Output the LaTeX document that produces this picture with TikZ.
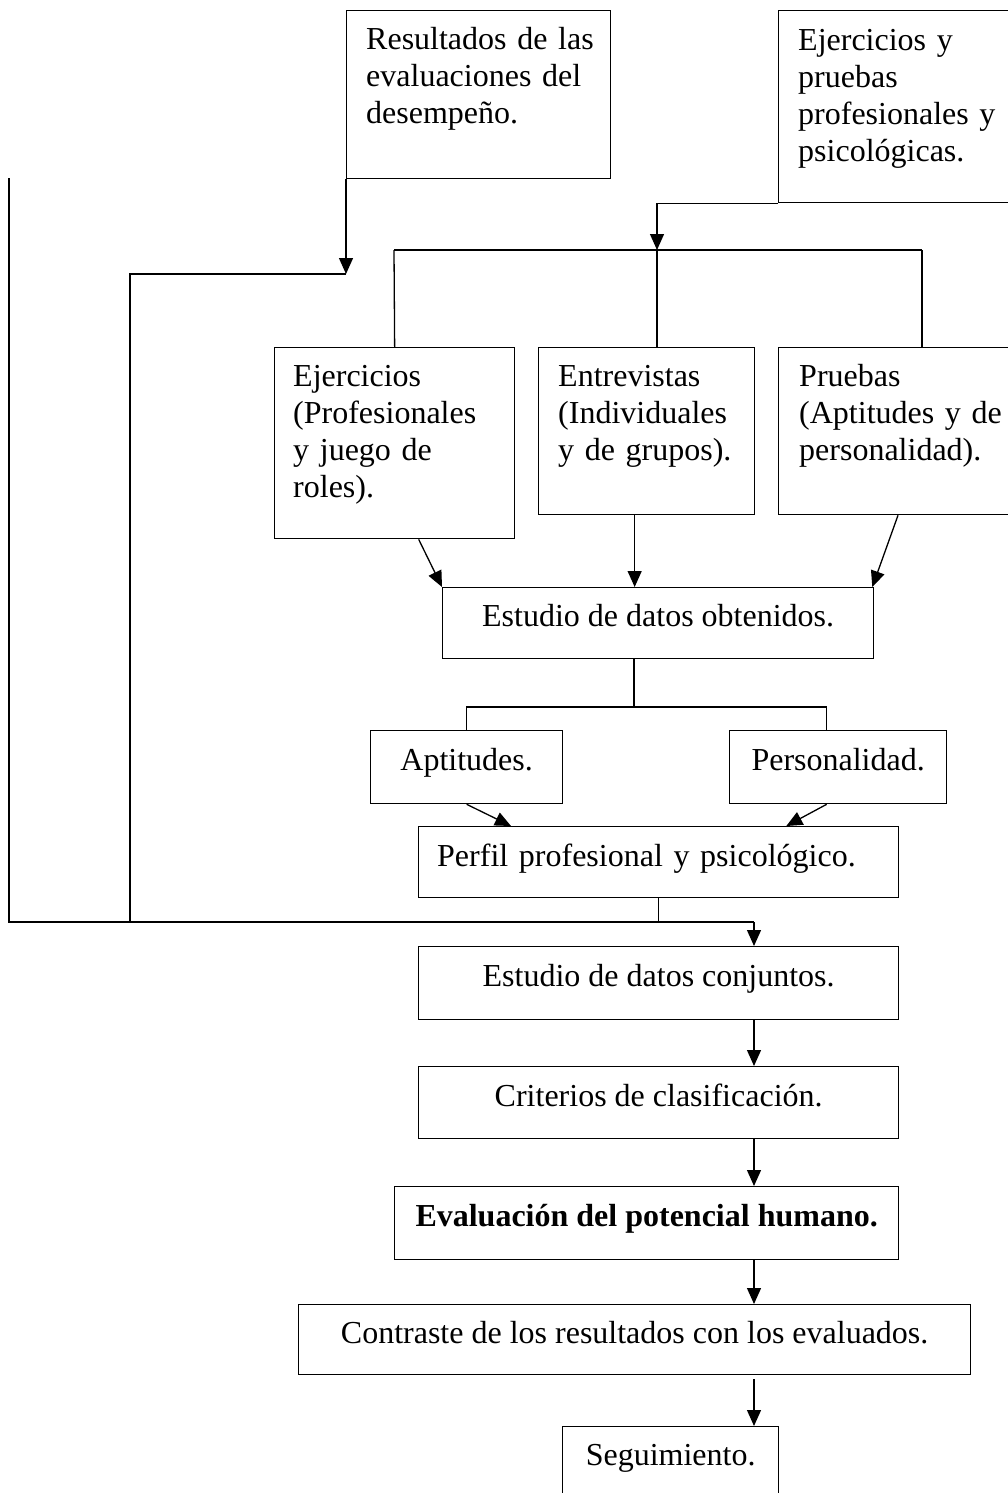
\documentclass[tikz,border=0pt]{standalone}
\usepackage{fontspec}
\setmainfont{Liberation Serif}
\usetikzlibrary{arrows.meta,calc}
\tikzset{
  box/.style={draw, line width=1.3pt, anchor=north west, inner sep=0pt},
  ltxt/.style={anchor=north west, inner sep=0pt, text width=420pt, align=left},
  ctxt/.style={anchor=north, inner sep=0pt, align=center},
  link/.style={line width=1.3pt},
  arr/.style={line width=1.3pt, -{Triangle[length=16pt,width=14pt]}},
}
\begin{document}
\begin{tikzpicture}[x=1pt,y=-1pt,font=\fontsize{32}{36.8}\selectfont]
\useasboundingbox (0,0) rectangle (1008,1493);
\clip (0,0) rectangle (1008,1493);

% boxes
\node[box, minimum width=264pt, minimum height=168pt] (res) at (346,10) {};
\node[box, minimum width=240pt, minimum height=192pt] (ejp) at (778,10) {};
\node[box, minimum width=240pt, minimum height=191pt] (ej) at (274,347) {};
\node[box, minimum width=216pt, minimum height=167pt] (ent) at (538,347) {};
\node[box, minimum width=240pt, minimum height=167pt] (pru) at (778,347) {};
\node[box, minimum width=431pt, minimum height=71pt] (obt) at (442,587) {};
\node[box, minimum width=192pt, minimum height=73pt] (apt) at (370,730) {};
\node[box, minimum width=217pt, minimum height=73pt] (pers) at (729,730) {};
\node[box, minimum width=480pt, minimum height=71pt] (perf) at (418,826) {};
\node[box, minimum width=480pt, minimum height=73pt] (conj) at (418,946) {};
\node[box, minimum width=480pt, minimum height=72pt] (crit) at (418,1066) {};
\node[box, minimum width=504pt, minimum height=73pt] (eval) at (394,1186) {};
\node[box, minimum width=672pt, minimum height=70pt] (contr) at (298,1304) {};
\node[box, minimum width=216pt, minimum height=90pt] (seg) at (562,1426) {};

% texts
\node[ltxt] (res-t) at ([xshift=20pt,yshift=-14pt]res.north west) {\strut Resultados de las\\evaluaciones del\\desempeño.};
\node[ltxt] (ejp-t) at ([xshift=20pt,yshift=-15pt]ejp.north west) {\strut Ejercicios y\\pruebas\\profesionales y\\psicológicas.};
\node[ltxt] (ej-t) at ([xshift=19pt,yshift=-14pt]ej.north west) {\strut Ejercicios\\(Profesionales\\y juego de\\roles).};
\node[ltxt] (ent-t) at ([xshift=20pt,yshift=-14pt]ent.north west) {\strut Entrevistas\\(Individuales\\y de grupos).};
\node[ltxt] (pru-t) at ([xshift=21pt,yshift=-14pt]pru.north west) {\strut Pruebas\\(Aptitudes y de\\personalidad).};
\node[ctxt] (obt-t) at ([yshift=-14pt]obt.north) {\strut Estudio de datos obtenidos.};
\node[ctxt] (apt-t) at ([yshift=-15pt]apt.north) {\strut Aptitudes.};
\node[ctxt] (pers-t) at ([yshift=-15pt]pers.north) {\strut Personalidad.};
\node[ltxt] (perf-t) at ([xshift=19pt,yshift=-15pt]perf.north west) {\strut Perfil profesional y psicológico.};
\node[ctxt] (conj-t) at ([yshift=-15pt]conj.north) {\strut Estudio de datos conjuntos.};
\node[ctxt] (crit-t) at ([yshift=-15pt]crit.north) {\strut Criterios de clasificación.};
\node[ctxt] (eval-t) at ([yshift=-15pt]eval.north) {\strut\bfseries Evaluación del potencial humano.};
\node[ctxt] (contr-t) at ([yshift=-14pt]contr.north) {\strut Contraste de los resultados con los evaluados.};
\node[ctxt] (seg-t) at ([yshift=-14pt]seg.north) {\strut Seguimiento.};

% coordinates
\coordinate (resin) at (346,274);
\coordinate (lk1) at (130,274);
\coordinate (lk2) at (130,922);
\coordinate (lf1) at (9,178);
\coordinate (lf2) at (9,922);
\coordinate (jn) at (754,922);
\coordinate (br) at (657,250);
\coordinate (brL) at (394,250);
\coordinate (brR) at (922,250);
\coordinate (sp) at (634,707);

% connectors top
\draw[arr] (res.south west) -- (resin);
\draw[link] (resin) -- (lk1) -- (lk2);
\draw[link] (lf1) -- (lf2) -- (jn);
\draw[arr] (ejp.south west) -| (br);
\draw[link] (brL) -- (brR);
\draw[link] (brL) -- (ej.north);
\draw[link] (br) -- (br |- ent.north);
\draw[link] (brR) -- (brR |- pru.north);

% into obt
\draw[arr] ([xshift=24pt]ej.south) -- (obt.north west);
\draw[arr] ([xshift=-12pt]ent.south) -- ([xshift=-12pt]ent.south |- obt.north);
\draw[arr] ([xshift=120pt]pru.south west) -- ([xshift=-2pt]obt.north east);

% obt to apt/pers
\draw[link] (obt.south -| sp) -- (sp);
\draw[link] (apt.north) |- (sp);
\draw[link] ([xshift=-11.5pt]pers.north) |- (sp);
\draw[arr] (apt.south) -- ([xshift=93pt]perf.north west);
\draw[arr] ([xshift=-11.5pt]pers.south) -- ([xshift=-113pt]perf.north east);

% perf to chain
\draw[link] (perf.south) -- (perf.south |- jn);
\draw[arr] (jn) -- (jn |- conj.north);
\draw[arr] (conj.south -| jn) -- (crit.north -| jn);
\draw[arr] (crit.south -| jn) -- (eval.north -| jn);
\draw[arr] (eval.south -| jn) -- (contr.north -| jn);
\draw[arr] ([yshift=-4pt]contr.south -| jn) -- (seg.north -| jn);
\end{tikzpicture}
\end{document}
